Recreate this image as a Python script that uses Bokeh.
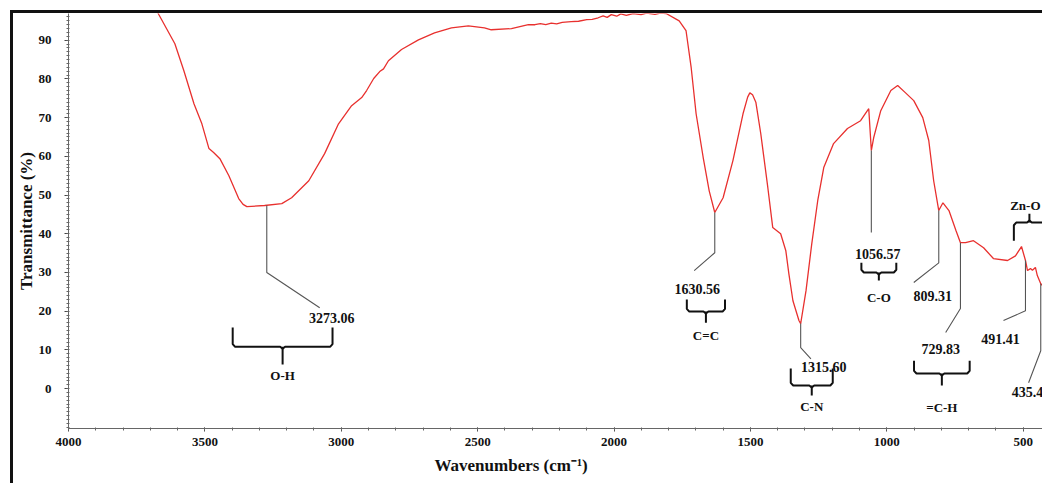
from bokeh.plotting import figure
from bokeh.models import Range1d, FixedTicker, Title
from bokeh.core.properties import value
from bokeh.embed import file_html
from bokeh.resources import INLINE

# ---- FTIR spectrum ----
wavenumber = [3690, 3668, 3610, 3577, 3540, 3511, 3485, 3468, 3445, 3412, 3376, 3360, 3346,
              3281, 3218, 3182, 3119, 3061, 3010, 2962, 2925, 2907, 2881, 2859, 2845,
              2827, 2779, 2717, 2658, 2596, 2534, 2475, 2450, 2376, 2314, 2290, 2270,
              2250, 2230, 2210, 2190, 2157, 2130, 2100, 2080, 2058, 2040, 2025, 2010,
              1990, 1975, 1955, 1930, 1901, 1880, 1850, 1830, 1809, 1761, 1736, 1717,
              1699, 1673, 1651, 1630.56, 1600, 1564, 1527, 1510, 1502, 1492, 1480, 1462, 1436, 1418,
              1389, 1370, 1359, 1344, 1322, 1315.60, 1296, 1275, 1253, 1231, 1195, 1144,
              1096, 1066, 1056.57, 1048, 1022, 985, 960, 931, 901, 868, 846, 828,
              809.31, 794, 772, 746, 729.83, 711, 682, 645, 609, 557, 528, 506,
              491.41, 484, 473, 466, 455, 448, 435.4, 418]
transmittance = [99.5, 96.5, 89.1, 82.1, 73.6, 68.4, 62.0, 61.0, 59.4, 55.0, 49.1, 47.6, 47.0,
                 47.3, 47.8, 49.3, 53.7, 60.7, 68.4, 73.1, 75.2, 77.0, 80.1, 81.9, 82.6,
                 84.7, 87.6, 90.1, 91.9, 93.2, 93.7, 93.2, 92.7, 93.0, 94.0, 94.0, 94.3,
                 94.0, 94.4, 94.2, 94.6, 94.8, 94.9, 95.3, 95.4, 95.8, 96.3, 95.9, 96.6,
                 96.2, 96.8, 96.4, 96.9, 96.6, 97.0, 96.7, 97.0, 96.9, 95.0, 92.5, 82.9,
                 71.0, 59.7, 51.1, 45.5, 49.3, 58.9, 71.0, 75.3, 76.4, 75.9, 74.0, 65.9, 51.9, 41.6,
                 40.0, 35.6, 29.7, 22.7, 17.6, 16.8, 25.3, 37.4, 48.6, 57.1, 63.3, 67.2,
                 69.2, 72.3, 61.5, 64.8, 71.8, 77.0, 78.3, 76.4, 74.4, 70.0, 64.1, 53.7,
                 46.0, 48.0, 46.0, 40.8, 37.7, 37.7, 38.2, 36.4, 33.6, 33.1, 34.3, 36.7,
                 33.1, 30.5, 31.0, 30.6, 31.3, 29.2, 27.1, 25.8]

# ---- peak annotations ----
peak_labels = ["3273.06", "1630.56", "1315.60", "1056.57", "809.31", "729.83", "491.41", "435.4"]
peak_wn = [3273.06, 1630.56, 1315.60, 1056.57, 809.31, 729.83, 491.41, 435.4]
peak_t = [47.3, 45.5, 16.8, 61.5, 46.0, 37.7, 33.1, 27.1]
knee_t = [30.0, 35.1, 10.6, 40.3, 32.5, 20.7, 20.1, 9.8]
leader_end_wn = [3079, 1706, 1278, 1056.57, 901, 784, 572, 480]
leader_end_t = [20.9, 30.5, 7.7, 40.3, 27.4, 14.5, 17.6, 1.5]
peak_label_wn = [3035, 1695, 1231, 1033, 831, 802, 583, 484]
peak_label_t = [18.3, 25.8, 5.7, 34.9, 24.0, 10.3, 12.9, -1.0]

# ---- bond-group braces ----
bond_labels = ["O-H", "C=C", "C-N", "C-O", "=C-H", "Zn-O"]
bond_center_wn = [3215, 1663, 1275, 1029, 798, 477]
bond_half_wn = [183, 70, 77, 64, 102, 57]
bond_tip_t = [15.8, 23.0, 5.2, 32.5, 7.2, 38.2]
bond_bar_t = [10.8, 19.9, 0.8, 30.0, 3.9, 42.9]
bond_stem_t = [6.2, 17.0, -1.8, 27.9, 0.8, 45.2]
bond_label_wn = [3215, 1663, 1275, 1029, 798, 492]
bond_label_t = [3.4, 13.7, -4.6, 23.5, -4.9, 47.3]

# ---- axes ticks ----
x_major_ticks = [4000, 3500, 3000, 2500, 2000, 1500, 1000, 500]
y_major_ticks = [0, 10, 20, 30, 40, 50, 60, 70, 80, 90]

SERIF = value("Liberation Serif")

p = figure(width=1032, height=473, x_range=Range1d(4000, 418), y_range=Range1d(-10.3, 96.9),
           output_backend="svg", toolbar_location=None,
           min_border_left=53, min_border_right=0, min_border_top=0, min_border_bottom=58)
p.styles = {"margin-left": "10px", "margin-top": "10px",
            "border-left": "3px solid #111111", "border-top": "3px solid #111111"}
p.outline_line_color = None
p.xgrid.visible = False
p.ygrid.visible = False
p.background_fill_color = "white"
p.border_fill_color = "white"

p.line(wavenumber, transmittance, line_color="#e8302e", line_width=1.3)

# leaders
lead_xs = [[w, w, ew] for w, ew in zip(peak_wn, leader_end_wn)]
lead_ys = [[t, k, et] for t, k, et in zip(peak_t, knee_t, leader_end_t)]
p.multi_line(lead_xs, lead_ys, line_color="#555555", line_width=1.1)
p.text(peak_label_wn, peak_label_t, text=peak_labels, text_font=SERIF, text_font_style="bold",
       text_font_size="14px", text_align="center", text_baseline="middle", text_color="#111")

# braces
br_xs, br_ys = [], []
for c, h, tip, bar, stem in zip(bond_center_wn, bond_half_wn, bond_tip_t, bond_bar_t, bond_stem_t):
    s = 1 if tip > bar else -1
    dx = min(9, h * 0.15)
    br_xs.append([c - h, c - h, c - h + dx, c - dx, c, c + dx, c + h - dx, c + h, c + h])
    br_ys.append([tip, bar + s * 0.7, bar, bar, bar - s * 0.5, bar, bar, bar + s * 0.7, tip])
    br_xs.append([c, c])
    br_ys.append([bar, stem])
p.multi_line(br_xs, br_ys, line_color="#111", line_width=2)
p.text(bond_label_wn, bond_label_t, text=bond_labels, text_font=SERIF, text_font_style="bold",
       text_font_size="13px", text_align="center", text_baseline="middle", text_color="#111")

# axes
xa = p.xaxis[0]
xa.ticker = FixedTicker(ticks=x_major_ticks, minor_ticks=list(range(400, 4001, 100)))
ya = p.yaxis[0]
ya.ticker = FixedTicker(ticks=y_major_ticks, minor_ticks=list(range(-10, 97, 1)))
for ax in (xa, ya):
    ax.axis_line_color = "#666666"
    ax.axis_line_width = 1
    ax.major_tick_line_color = "#444444"
    ax.minor_tick_line_color = "#666666"
    ax.major_label_text_font = "Liberation Serif"
    ax.major_label_text_font_style = "bold"
    ax.major_label_text_font_size = "13px"
    ax.major_label_text_color = "#111"
xa.major_tick_out = 3
xa.major_tick_in = 1
xa.minor_tick_out = 2
xa.minor_tick_in = 1
xa.major_label_standoff = 6
ya.major_tick_out = 4
ya.major_tick_in = 0
ya.minor_tick_out = 2
ya.minor_tick_in = 1
ya.major_label_standoff = 13
ya.axis_label = "Transmittance (%)"
ya.axis_label_text_font = "Liberation Serif"
ya.axis_label_text_font_style = "bold"
ya.axis_label_text_font_size = "17px"
ya.axis_label_text_color = "#111"
ya.axis_label_standoff = 0

xt = Title(text="Wavenumbers (cm\u207b\u00b9)", align="left", offset=366, standoff=11,
           text_font="Liberation Serif", text_font_style="bold", text_font_size="17px",
           text_color="#111")
p.add_layout(xt, "below")

open("out.html", "w").write(file_html(p, INLINE))
